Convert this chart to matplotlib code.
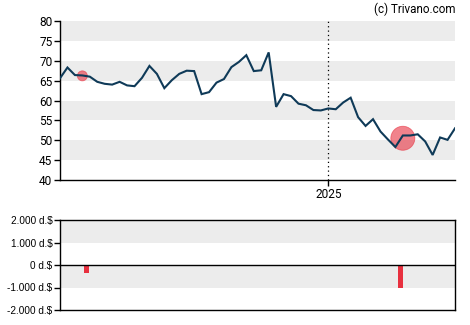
import matplotlib
matplotlib.use("Agg")
import matplotlib.pyplot as plt
import numpy as np
import pandas as pd

# ---- data ----
start_date = "2024-04-24"
prices = [65.6, 68.3, 66.4, 66.3, 66.0, 64.7, 64.2, 64.0, 64.7, 63.8,
          63.6, 65.7, 68.7, 66.7, 63.1, 65.1, 66.7, 67.5, 67.4, 61.6,
          62.1, 64.5, 65.4, 68.4, 69.7, 71.4, 67.4, 67.6, 72.1, 58.4,
          61.6, 61.1, 59.2, 58.8, 57.6, 57.5, 58.0, 57.8, 59.5, 60.7,
          55.8, 53.6, 55.3, 52.2, 50.2, 48.3, 51.2, 51.2, 51.5, 49.7,
          46.3, 50.7, 50.1, 53.0]
dates = pd.date_range(start_date, periods=len(prices), freq="7D")

marker_dates = ["2024-05-15", "2025-03-12"]
marker_values = [66.2, 50.5]
marker_sizes = [5, 12]  # radius in px-ish

bar_dates = ["2024-05-19", "2025-03-10"]
bar_values = [-340, -1020]

price_ticks = [40, 45, 50, 55, 60, 65, 70, 75, 80]
flow_ticks = [-2000, -1000, 0, 1000, 2000]
flow_labels = ["-2.000 d.$", "-1.000 d.$", "0 d.$", "1.000 d.$", "2.000 d.$"]
year_tick = "2025-01-01"
year_label = "2025"

line_color = "#0f3a58"
red = "#e8303f"
band = "#ececec"

W, H = 470, 325
fig = plt.figure(figsize=(W / 100, H / 100), dpi=100)

def ax_rect(l, t, r, b):
    return [l / W, 1 - b / H, (r - l) / W, (b - t) / H]

# ---- main price axes ----
ax = fig.add_axes(ax_rect(60, 21, 455, 180))
ax.set_xlim(dates[0], dates[-1])
ax.set_ylim(40, 80)
for lo in [75, 65, 55, 45]:
    ax.axhspan(lo, lo + 5, color=band, lw=0, zorder=0)
ax.axvline(pd.Timestamp(year_tick), color="black", lw=0.9, ls=(0, (1, 2.5)), zorder=1)

md = pd.to_datetime(marker_dates)
ax.scatter(md, marker_values, s=[(r * 72 / 100 * 2) ** 2 for r in marker_sizes],
           color=red, alpha=0.6, lw=0.6, edgecolors=red, zorder=2)
ax.plot(dates, prices, color=line_color, lw=1.5, zorder=3, solid_joinstyle="miter")

ax.set_yticks(price_ticks)
ax.set_xticks([pd.Timestamp(year_tick)])
ax.set_xticklabels([year_label])
for s in ["top", "right"]:
    ax.spines[s].set_visible(False)
for s in ["left", "bottom"]:
    ax.spines[s].set_linewidth(1.0)
ax.tick_params(axis="both", direction="out", length=4, width=1.0, labelsize=8.6,
               pad=1.5, colors="black")
for lab in ax.get_yticklabels() + ax.get_xticklabels():
    lab.set_fontfamily("Roboto")

fig.text(455 / W, 1 - 3 / H, "(c) Trivano.com", ha="right", va="top",
         fontsize=8.4, family="Roboto", color="black")

# ---- bottom flow axes ----
ax2 = fig.add_axes(ax_rect(60, 220, 455, 310))
ax2.set_xlim(dates[0], dates[-1])
ax2.set_ylim(-2000, 2000)
ax2.axhspan(1000, 2000, color=band, lw=0, zorder=0)
ax2.axhspan(-1000, 0, color=band, lw=0, zorder=0)
ax2.axhline(0, color="black", lw=1.0, zorder=2)
bd = pd.to_datetime(bar_dates)
ax2.bar(bd, bar_values, width=4.5, color=red, zorder=1)
ax2.set_yticks(flow_ticks)
ax2.set_yticklabels(flow_labels)
ax2.set_xticks([])
for s in ax2.spines.values():
    s.set_linewidth(1.0)
ax2.tick_params(axis="y", direction="out", length=4, width=1.0, labelsize=7.2,
                pad=1.5, colors="black")
for lab in ax2.get_yticklabels():
    lab.set_fontfamily("Liberation Sans")

fig.savefig("out.png", dpi=100)
